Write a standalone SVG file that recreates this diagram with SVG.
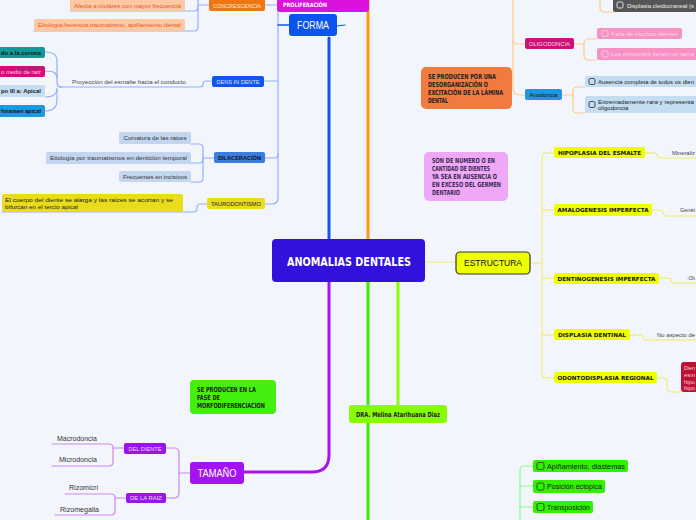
<svg xmlns="http://www.w3.org/2000/svg" width="696" height="520" viewBox="0 0 696 520">
<style>
.s{font-family:"Liberation Sans",Arial,sans-serif}
.c{font-family:"DejaVu Sans Condensed","Liberation Sans Narrow","Liberation Sans",sans-serif;font-weight:bold}
.v{font-family:"DejaVu Sans","Liberation Sans",sans-serif;font-weight:bold}
.m{text-anchor:middle}
.cb{fill:none;stroke-width:0.9}
path{fill:none}
</style>
<rect width="696" height="520" fill="#f3f5fd"/>
<g id="connectors" stroke-linecap="round">
  <path d="M329,239 V38" stroke="#1155ee" stroke-width="3"/>
  <path d="M368,239 V0" stroke="#ff9911" stroke-width="3"/>
  <path d="M329,282 V455 Q329,472 312,472 H244" stroke="#aa11ee" stroke-width="3"/>
  <path d="M368,282 V520" stroke="#33ee00" stroke-width="3"/>
  <path d="M398,282 V405" stroke="#88ff00" stroke-width="3"/>
  <path d="M425,262 H456" stroke="#eeee66" stroke-width="1"/>
  <g stroke="#8fb2f8" stroke-width="1.2">
    <path d="M278,0 V198 Q278,204 272,204 H265"/>
    <path d="M265,5 H278"/>
    <path d="M264,81 H278"/>
    <path d="M265,158 H274 Q278,158 278,154"/>
    <path d="M209,5 H198"/>
    <path d="M198,0 V27 Q198,31 194,31 H34"/>
    <path d="M198,7 Q198,11 194,11 H70"/>
    <path d="M212,81 H206 Q203,81 203,84 Q203,87 200,87 H60"/>
    <path d="M45,52 C54,52 57,55 57,62 V82 C57,86 58,87 62,87"/>
    <path d="M45,71 C54,71 57,73 57,78"/>
    <path d="M45,97 C54,97 57,94 57,88"/>
    <path d="M45,111 C54,111 57,107 57,100 V90"/>
    <path d="M214,158 H203"/>
    <path d="M191,144 H199 Q203,144 203,148 V178 Q203,182 199,182 H191"/>
    <path d="M46,163 H199 Q203,163 203,159"/>
    <path d="M207,204 H201 Q197,204 197,208 Q197,212 193,212 H2"/>
  </g>
  <path d="M278,25 H289" stroke="#1155ee" stroke-width="1.5"/>
  <path d="M337,26 L345,25" stroke="#1155ee" stroke-width="1.2"/>
  <g stroke="#ffcc88" stroke-width="1.2">
    <path d="M513,0 V88 Q513,95 520,95 H525"/>
    <path d="M513,40 Q513,44 517,44 H525"/>
    <path d="M574,44 H584"/>
    <path d="M584,44 Q584,39 589,39 H597"/>
    <path d="M584,44 V56 Q584,60 589,60 H597"/>
    <path d="M600,0 V8 Q600,12 604,12 H613"/>
    <path d="M562,95 H573"/>
    <path d="M573,95 V91 Q573,87 577,87 H585"/>
    <path d="M573,95 V109 Q573,113 577,113 H585"/>
  </g>
  <g stroke="#eeee55" stroke-width="1">
    <path d="M530,263 H542"/>
    <path d="M554,153 H546 Q542,153 542,157 V374 Q542,378 546,378 H554"/>
    <path d="M542,210 H554"/>
    <path d="M542,278 H554"/>
    <path d="M542,335 H554"/>
    <path d="M645,153 H654 Q657,153 657,156 Q657,158 661,158 H696"/>
    <path d="M652,210 H660 Q663,210 663,213 Q663,216 667,216 H696"/>
    <path d="M659,278 H668 Q671,278 671,281 Q671,283 675,283 H696"/>
    <path d="M630,335 H640 Q643,335 643,338 Q643,340 647,340 H696"/>
    <path d="M657,378 H664 Q667,378 667,382 V388 Q667,392 671,392 H681"/>
  </g>
  <g stroke="#cc88f0" stroke-width="1.2">
    <path d="M190,473 H179"/>
    <path d="M166,448 H174 Q179,448 179,453 V493 Q179,498 174,498 H166"/>
    <path d="M124,448 H113"/>
    <path d="M52,444 H109 Q113,444 113,448 V462 Q113,466 109,466 H52"/>
    <path d="M126,498 H115"/>
    <path d="M65,494 H111 Q115,494 115,498 V511 Q115,515 111,515 H55"/>
  </g>
  <g stroke="#88ff88" stroke-width="1.2">
    <path d="M520,520 V470 Q520,466 524,466 H533"/>
    <path d="M520,486 H533"/>
    <path d="M520,507 H533"/>
  </g>
</g>

<g id="central">
  <rect x="272" y="239" width="153" height="43" rx="4" fill="#3311dd"/>
  <text x="349" y="265.5" class="v m" font-size="12" fill="#ffffff" textLength="124" lengthAdjust="spacingAndGlyphs">ANOMALIAS DENTALES</text>
</g>

<g id="proliferacion">
  <rect x="277" y="-4" width="92" height="16" rx="3" fill="#dd11dd"/>
  <text x="283" y="7" class="c" font-size="6" fill="#ffffff" textLength="44" lengthAdjust="spacingAndGlyphs">PROLIFERACIÓN</text>
</g>
<g id="concrescencia">
  <rect x="209" y="-3" width="56" height="14" rx="2" fill="#ee7711"/>
  <text x="237" y="7.5" class="s m" font-size="5.5" fill="#ffe8d8" textLength="48" lengthAdjust="spacingAndGlyphs">CONCRESCENCIA</text>
</g>
<g id="afecta">
  <rect x="70" y="-3" width="115" height="14" rx="2" fill="#fcc9a2"/>
  <text x="127.5" y="8" class="s m" font-size="6" fill="#ee5522" textLength="107" lengthAdjust="spacingAndGlyphs">Afecta a molares con mayor frecuencia</text>
</g>
<g id="etiologia1">
  <rect x="34" y="19" width="151" height="12" rx="2" fill="#fcc9a2"/>
  <text x="109.5" y="27" class="s m" font-size="6" fill="#ee5522" textLength="143" lengthAdjust="spacingAndGlyphs">Etiología:herencia,traumatismo, apiñamiento dental</text>
</g>
<g id="forma">
  <rect x="289" y="14" width="48" height="22" rx="3" fill="#0b55ee"/>
  <text x="313" y="28.5" class="s m" font-size="10" fill="#ffffff" textLength="32" lengthAdjust="spacingAndGlyphs">FORMA</text>
</g>
<g id="densindente">
  <rect x="212" y="76" width="52" height="11" rx="2" fill="#1155ee"/>
  <text x="238" y="83.5" class="s m" font-size="5.5" fill="#dde4ff" textLength="43" lengthAdjust="spacingAndGlyphs">DENS IN DENTE</text>
</g>
<g id="proyeccion">
  <text x="72" y="84" class="s" font-size="6" fill="#444444" textLength="114" lengthAdjust="spacingAndGlyphs">Proyección del esmalte hacia el conducto</text>
</g>
<g id="tipo1">
  <rect x="-5" y="47" width="50" height="11" rx="2" fill="#119999"/>
  <text x="1" y="54.5" class="s" font-size="6" font-weight="bold" fill="#111111" textLength="40" lengthAdjust="spacingAndGlyphs">do a la corona</text>
</g>
<g id="tipo2">
  <rect x="-5" y="66" width="50" height="11" rx="2" fill="#cc1177"/>
  <text x="1" y="73.5" class="s" font-size="6" fill="#f8d0e8" textLength="40" lengthAdjust="spacingAndGlyphs">o medio de raiz</text>
</g>
<g id="tipo3a">
  <rect x="-5" y="85" width="50" height="12" rx="2" fill="#c4ddf2"/>
  <text x="1" y="93" class="s" font-size="6" font-weight="bold" fill="#222222" textLength="40" lengthAdjust="spacingAndGlyphs">po III a: Apical</text>
</g>
<g id="tipo3b">
  <rect x="-5" y="105" width="50" height="12" rx="2" fill="#1a9be0"/>
  <text x="1" y="113" class="s" font-size="6" font-weight="bold" fill="#111122" textLength="40" lengthAdjust="spacingAndGlyphs">foramen apical</text>
</g>
<g id="dilaceracion">
  <rect x="214" y="152" width="51" height="11" rx="2" fill="#3a7ddc"/>
  <text x="239.5" y="159.5" class="s m" font-size="5.5" font-weight="bold" fill="#111122" textLength="43" lengthAdjust="spacingAndGlyphs">DILACERACIÓN</text>
</g>
<g id="curvatura">
  <rect x="119" y="132" width="72" height="12" rx="2" fill="#c3d5ef"/>
  <text x="155" y="140" class="s m" font-size="6" fill="#333333" textLength="63" lengthAdjust="spacingAndGlyphs">Curvatura de las raices</text>
</g>
<g id="etiologia2">
  <rect x="46" y="152" width="145" height="11" rx="2" fill="#c3d5ef"/>
  <text x="118.5" y="159.5" class="s m" font-size="6" fill="#333333" textLength="137" lengthAdjust="spacingAndGlyphs">Etiología por traumatismos en dentición temporal</text>
</g>
<g id="frecuentes">
  <rect x="119" y="171" width="72" height="11" rx="2" fill="#c3d5ef"/>
  <text x="155" y="178.5" class="s m" font-size="6" fill="#333333" textLength="64" lengthAdjust="spacingAndGlyphs">Frecuentes en incisivos</text>
</g>
<g id="taurodontismo">
  <rect x="207" y="198" width="58" height="11" rx="2" fill="#e8dc1c"/>
  <text x="236" y="205.5" class="s m" font-size="5.5" fill="#222222" textLength="50" lengthAdjust="spacingAndGlyphs">TAURODONTISMO</text>
</g>
<g id="cuerpo">
  <rect x="2" y="194" width="181" height="18" rx="2" fill="#e8dc1c"/>
  <text x="5" y="202" class="s" font-size="5.5" fill="#222222" textLength="168" lengthAdjust="spacingAndGlyphs">El cuerpo del diente se alarga y las raices se acortan y se</text>
  <text x="5" y="209" class="s" font-size="5.5" fill="#222222" textLength="73" lengthAdjust="spacingAndGlyphs">bifurcan en el tercio apical</text>
</g>

<g id="numero-nota">
  <rect x="421" y="67" width="91" height="42" rx="5" fill="#f07a40"/>
  <text class="c" font-size="7" fill="#222222">
    <tspan x="428" y="78.5" textLength="68" lengthAdjust="spacingAndGlyphs">SE PRODUCEN POR UNA</tspan>
    <tspan x="428" y="86.5" textLength="60" lengthAdjust="spacingAndGlyphs">DESORGANIZACIÓN O</tspan>
    <tspan x="428" y="94.5" textLength="75" lengthAdjust="spacingAndGlyphs">EXCITACIÓN DE LA LÁMINA</tspan>
    <tspan x="428" y="102.5" textLength="20" lengthAdjust="spacingAndGlyphs">DENTAL</tspan>
  </text>
</g>
<g id="displasia-cleido">
  <rect x="613" y="-3" width="90" height="15" rx="2" fill="#555555"/>
  <rect x="617" y="2" width="6" height="6" rx="1.5" class="cb" stroke="#eeeeee"/>
  <text x="627" y="8" class="s" font-size="6" fill="#eeeeee" textLength="67" lengthAdjust="spacingAndGlyphs">Displasia cleidocraneal (s</text>
</g>
<g id="oligodoncia">
  <rect x="525" y="38" width="49" height="11" rx="2" fill="#cc1177"/>
  <text x="549.5" y="45.5" class="s m" font-size="5.5" fill="#f8d8ea" textLength="41" lengthAdjust="spacingAndGlyphs">OLIGODONCIA</text>
</g>
<g id="falta">
  <rect x="597" y="28" width="85" height="11" rx="2" fill="#f592c3"/>
  <rect x="602" y="30.5" width="6" height="6" rx="1.5" class="cb" stroke="#fbd0e4"/>
  <text x="611" y="35.5" class="s" font-size="6" fill="#fcd4e6" textLength="67" lengthAdjust="spacingAndGlyphs">Falta de muchos dientes</text>
</g>
<g id="existentes">
  <rect x="597" y="48" width="110" height="12" rx="2" fill="#f592c3"/>
  <rect x="602" y="51" width="6" height="6" rx="1.5" class="cb" stroke="#fbd0e4"/>
  <text x="611" y="56" class="s" font-size="6" fill="#fcd4e6" textLength="83" lengthAdjust="spacingAndGlyphs">Los existentes tienen un tama</text>
</g>
<g id="anodoncia">
  <rect x="525" y="89" width="37" height="11" rx="2" fill="#1f96e0"/>
  <text x="543.5" y="96.5" class="s m" font-size="5.5" fill="#111122" textLength="28" lengthAdjust="spacingAndGlyphs">Anodoncia</text>
</g>
<g id="ausencia">
  <rect x="585" y="76" width="120" height="11" rx="2" fill="#c5ddf0"/>
  <rect x="589" y="78.5" width="6" height="6" rx="1.5" class="cb" stroke="#333344"/>
  <text x="598" y="83.5" class="s" font-size="6" fill="#222222" textLength="96" lengthAdjust="spacingAndGlyphs">Ausencia completa de todos os dien</text>
</g>
<g id="extremadamente">
  <rect x="585" y="96" width="120" height="17" rx="2" fill="#c5ddf0"/>
  <rect x="589" y="101.5" width="6" height="6" rx="1.5" class="cb" stroke="#333344"/>
  <text x="598" y="103.5" class="s" font-size="6" fill="#222222" textLength="96" lengthAdjust="spacingAndGlyphs">Extremadamente rara y representa</text>
  <text x="598" y="110" class="s" font-size="6" fill="#222222">oligodoncia</text>
</g>

<g id="son-de-numero">
  <rect x="424" y="152" width="84" height="49" rx="5" fill="#eea8f6"/>
  <text class="c" font-size="7" fill="#3a2a55">
    <tspan x="432" y="162.5" textLength="63" lengthAdjust="spacingAndGlyphs">SON DE NUMERO O EN</tspan>
    <tspan x="432" y="170.5" textLength="58" lengthAdjust="spacingAndGlyphs">CANTIDAD DE DIENTES</tspan>
    <tspan x="432" y="178.5" textLength="65" lengthAdjust="spacingAndGlyphs">YA SEA EN AUSENCIA O</tspan>
    <tspan x="432" y="186.5" textLength="69" lengthAdjust="spacingAndGlyphs">EN EXCESO DEL GERMEN</tspan>
    <tspan x="432" y="194.5" textLength="28" lengthAdjust="spacingAndGlyphs">DENTARIO</tspan>
  </text>
</g>

<g id="estructura">
  <rect x="456" y="252" width="74" height="22" rx="4" fill="#eeff00" stroke="#333333" stroke-width="1.2"/>
  <text x="493" y="266" class="s m" font-size="9" fill="#111111" textLength="58" lengthAdjust="spacingAndGlyphs">ESTRUCTURA</text>
</g>
<g id="hipoplasia">
  <rect x="554" y="147" width="91" height="11" rx="2" fill="#eeff00"/>
  <text x="599.5" y="154.5" class="v m" font-size="5.5" fill="#111111" textLength="83" lengthAdjust="spacingAndGlyphs">HIPOPLASIA DEL ESMALTE</text>
</g>
<g id="amalogenesis">
  <rect x="554" y="204" width="98" height="12" rx="2" fill="#eeff00"/>
  <text x="603" y="212" class="v m" font-size="5.5" fill="#111111" textLength="91" lengthAdjust="spacingAndGlyphs">AMALOGENESIS IMPERFECTA</text>
</g>
<g id="dentinogenesis">
  <rect x="554" y="273" width="105" height="11" rx="2" fill="#eeff00"/>
  <text x="606.5" y="280.5" class="v m" font-size="5.5" fill="#111111" textLength="98" lengthAdjust="spacingAndGlyphs">DENTINOGENESIS IMPERFECTA</text>
</g>
<g id="displasia-dentinal">
  <rect x="554" y="329" width="76" height="11" rx="2" fill="#eeff00"/>
  <text x="592" y="336.5" class="v m" font-size="5.5" fill="#111111" textLength="68" lengthAdjust="spacingAndGlyphs">DISPLASIA DENTINAL</text>
</g>
<g id="odontodisplasia">
  <rect x="554" y="372" width="103" height="11" rx="2" fill="#eeff00"/>
  <text x="605.5" y="379.5" class="v m" font-size="5.5" fill="#111111" textLength="96" lengthAdjust="spacingAndGlyphs">ODONTODISPLASIA REGIONAL</text>
</g>
<g id="mineralizacion"><text x="672" y="155" class="s" font-size="6" fill="#444444" textLength="23" lengthAdjust="spacingAndGlyphs">Mineraliz</text></g>
<g id="genetica"><text x="680" y="212" class="s" font-size="6" fill="#444444" textLength="15" lengthAdjust="spacingAndGlyphs">Genét</text></g>
<g id="obliteracion"><text x="687" y="280" class="s" font-size="6" fill="#444444" textLength="8" lengthAdjust="spacingAndGlyphs">-Ob</text></g>
<g id="no-aspecto"><text x="657" y="337" class="s" font-size="6" fill="#444444" textLength="38" lengthAdjust="spacingAndGlyphs">No aspecto de</text></g>
<g id="dientes-esmalte">
  <rect x="681" y="362" width="30" height="30" rx="3" fill="#bb1133"/>
  <text class="s" font-size="6" fill="#fcd0d8">
    <tspan x="684" y="370" textLength="11" lengthAdjust="spacingAndGlyphs">Dien</tspan>
    <tspan x="684" y="377" textLength="11" lengthAdjust="spacingAndGlyphs">esm</tspan>
    <tspan x="684" y="383.5" textLength="11" lengthAdjust="spacingAndGlyphs">hipo</tspan>
    <tspan x="684" y="390" textLength="11" lengthAdjust="spacingAndGlyphs">hipo</tspan>
  </text>
</g>

<g id="dra">
  <rect x="349" y="405" width="98" height="18" rx="3" fill="#88ff00"/>
  <text x="398" y="416.5" class="c m" font-size="7" fill="#222222" textLength="84" lengthAdjust="spacingAndGlyphs">DRA. Melina Atarihuana Diaz</text>
</g>

<g id="morfodiferenciacion">
  <rect x="190" y="380" width="86" height="34" rx="4" fill="#44ee11"/>
  <text class="c" font-size="7" fill="#222222">
    <tspan x="197" y="392" textLength="59" lengthAdjust="spacingAndGlyphs">SE PRODUCEN EN LA</tspan>
    <tspan x="197" y="400" textLength="23" lengthAdjust="spacingAndGlyphs">FASE DE</tspan>
    <tspan x="197" y="408" textLength="68" lengthAdjust="spacingAndGlyphs">MORFODIFERENCIACION</tspan>
  </text>
</g>
<g id="tamano">
  <rect x="190" y="462" width="54" height="22" rx="3" fill="#a414f0"/>
  <text x="217" y="476.5" class="s m" font-size="10" fill="#ffffff" textLength="39" lengthAdjust="spacingAndGlyphs">TAMAÑO</text>
</g>
<g id="del-diente">
  <rect x="124" y="443" width="42" height="11" rx="2" fill="#9a14ee"/>
  <text x="145" y="450.5" class="s m" font-size="5.5" fill="#f0d8ff" textLength="33" lengthAdjust="spacingAndGlyphs">DEL DIENTE</text>
</g>
<g id="de-la-raiz">
  <rect x="126" y="493" width="40" height="10" rx="2" fill="#9a14ee"/>
  <text x="146" y="500" class="s m" font-size="5.5" fill="#f0d8ff" textLength="32" lengthAdjust="spacingAndGlyphs">DE LA RAIZ</text>
</g>
<g id="macrodoncia"><text x="57" y="440.5" class="s" font-size="7" fill="#333333" textLength="40" lengthAdjust="spacingAndGlyphs">Macrodoncia</text></g>
<g id="microdoncia"><text x="59" y="461.5" class="s" font-size="7" fill="#333333" textLength="38" lengthAdjust="spacingAndGlyphs">Microdoncia</text></g>
<g id="rizomicri"><text x="69" y="489.5" class="s" font-size="7" fill="#333333" textLength="29" lengthAdjust="spacingAndGlyphs">Rizomicri</text></g>
<g id="rizomegalia"><text x="60" y="511.5" class="s" font-size="7" fill="#333333" textLength="39" lengthAdjust="spacingAndGlyphs">Rizomegalia</text></g>

<g id="apinamiento">
  <rect x="533" y="460" width="95" height="12" rx="2" fill="#33f000"/>
  <rect x="537" y="462.5" width="7" height="7" rx="1.5" class="cb" stroke="#224422"/>
  <text x="547" y="468.5" class="s" font-size="7" fill="#112211" textLength="78" lengthAdjust="spacingAndGlyphs">Apiñamiento, diastemas</text>
</g>
<g id="posicion">
  <rect x="533" y="480" width="72" height="13" rx="2" fill="#33f000"/>
  <rect x="537" y="483" width="7" height="7" rx="1.5" class="cb" stroke="#224422"/>
  <text x="547" y="489" class="s" font-size="7" fill="#112211" textLength="55" lengthAdjust="spacingAndGlyphs">Posición ectópica</text>
</g>
<g id="transposicion">
  <rect x="533" y="501" width="60" height="12" rx="2" fill="#33f000"/>
  <rect x="537" y="503.5" width="7" height="7" rx="1.5" class="cb" stroke="#224422"/>
  <text x="547" y="509.5" class="s" font-size="7" fill="#112211" textLength="43" lengthAdjust="spacingAndGlyphs">Transposición</text>
</g>
</svg>
